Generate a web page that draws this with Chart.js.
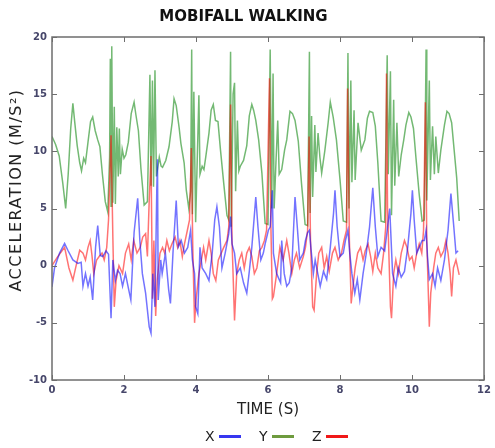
<!DOCTYPE html>
<html>
<head>
<meta charset="utf-8">
<script src="https://cdn.jsdelivr.net/npm/chart.js@4.4.1/dist/chart.umd.min.js"></script>
<style>
  body { margin: 0; background: #fff; }
  #wrap { position: relative; width: 495px; height: 448px; }
  .item { position: absolute; top: 428px; height: 16px; display: flex; align-items: center;
          font: 14px "DejaVu Sans", sans-serif; color: #222; }
  .item i { display: inline-block; width: 22px; height: 3px; margin-left: 4px; }
</style>
</head>
<body>
<div id="wrap">
  <canvas id="chart" width="495" height="448"></canvas>
  <div class="item" style="left:205px">X<i style="background:#3737f0"></i></div>
  <div class="item" style="left:259px">Y<i style="background:#6e9b3e"></i></div>
  <div class="item" style="left:312px">Z<i style="background:#f01818"></i></div>
</div>
<script>
// [time (s), acceleration (m/s²)]
const accX = [
  [0,-1.85],[0.07,-0.2],[0.21,1.1],[0.35,1.95],[0.44,1.35],[0.58,0.5],[0.72,0.2],[0.81,0.3],[0.86,-1.8],[0.93,-0.7],
  [1.0,-1.8],[1.06,-1.0],[1.13,-3.0],[1.21,1.6],[1.27,3.5],[1.34,0.9],[1.41,0.8],[1.5,1.3],[1.57,1.0],[1.64,-4.6],
  [1.69,0.5],[1.76,-1.3],[1.82,-0.4],[1.89,-0.7],[1.96,-1.8],[2.04,-0.7],[2.13,-2.1],[2.19,-3.0],[2.28,2.9],[2.38,5.9],
  [2.44,2.2],[2.51,-0.7],[2.6,-2.4],[2.7,-5.35],[2.75,-5.9],[2.8,-0.7],[2.86,-3.6],[2.91,6.6],[2.93,9.3],[2.95,-3.0],[3.02,0.5],
  [3.06,-0.7],[3.15,1.1],[3.24,-2.1],[3.29,-3.3],[3.36,1.1],[3.45,5.7],[3.51,1.65],[3.59,2.2],[3.68,1.1],[3.77,1.6],
  [3.85,3.1],[3.9,0.5],[3.96,-0.7],[3.99,-3.6],[4.05,-4.2],[4.11,1.6],[4.17,-0.2],[4.27,-0.7],[4.36,-1.3],[4.45,1.1],
  [4.52,4.0],[4.58,5.15],[4.65,3.4],[4.72,-0.2],[4.81,1.1],[4.91,2.8],[4.96,4.3],[5.0,1.9],[5.07,1.1],[5.13,-0.7],
  [5.23,-0.2],[5.32,-1.5],[5.41,-2.4],[5.48,-0.5],[5.55,1.6],[5.66,6.0],[5.72,3.4],[5.8,0.5],[5.87,1.1],[5.92,1.9],
  [6.01,3.1],[6.06,3.4],[6.12,6.6],[6.15,1.1],[6.24,-0.7],[6.35,-1.5],[6.38,2.2],[6.45,-0.7],[6.52,-1.8],[6.59,-1.5],
  [6.66,-0.2],[6.75,6.0],[6.82,3.1],[6.88,0.5],[6.98,1.1],[7.04,2.2],[7.1,2.9],[7.15,3.1],[7.19,1.6],[7.26,-0.7],
  [7.31,0.5],[7.37,-0.5],[7.45,-1.8],[7.54,-0.5],[7.63,-1.2],[7.73,1.6],[7.82,4.6],[7.86,6.6],[7.92,3.4],[8.0,0.8],
  [8.09,1.1],[8.15,2.2],[8.22,3.1],[8.27,1.1],[8.33,-0.7],[8.41,-2.4],[8.48,-1.2],[8.55,-3.0],[8.64,-0.7],[8.73,1.1],
  [8.82,3.4],[8.91,6.8],[8.98,3.4],[9.05,0.8],[9.14,1.6],[9.24,1.3],[9.31,3.1],[9.38,5.0],[9.46,-0.7],[9.55,-1.8],
  [9.62,-0.2],[9.7,-1.0],[9.79,-0.5],[9.88,1.6],[9.97,4.6],[10.01,6.6],[10.06,4.0],[10.13,1.1],[10.2,1.6],[10.28,2.2],
  [10.34,2.2],[10.39,3.1],[10.43,0.8],[10.48,-1.2],[10.57,-0.7],[10.64,-1.8],[10.71,-0.2],[10.8,-1.3],[10.9,0.5],[11.0,3.1],
  [11.08,6.3],[11.16,3.4],[11.22,1.1],[11.28,1.3]
];

const accY = [
  [0,11.3],[0.1,10.6],[0.2,9.6],[0.3,7.2],[0.38,5.0],[0.45,8.0],[0.52,12.0],[0.58,14.2],[0.63,12.6],[0.7,10.5],
  [0.77,9.0],[0.82,8.3],[0.88,9.4],[0.93,9.0],[1.0,10.8],[1.07,12.6],[1.13,13.0],[1.2,11.8],[1.27,11.0],[1.33,10.4],
  [1.4,8.0],[1.48,5.6],[1.55,4.7],[1.6,9.5],[1.62,18.1],[1.64,5.2],[1.66,19.2],[1.69,5.5],[1.73,13.9],[1.76,5.4],
  [1.8,12.1],[1.84,7.8],[1.87,12.0],[1.9,8.0],[1.95,10.2],[2.0,9.4],[2.05,9.7],[2.12,10.8],[2.2,13.3],[2.28,14.3],
  [2.33,13.2],[2.4,11.8],[2.47,8.5],[2.56,5.3],[2.65,5.6],[2.72,16.7],[2.75,7.0],[2.79,16.2],[2.82,6.9],[2.86,17.1],
  [2.9,7.8],[2.98,9.5],[3.03,8.7],[3.07,8.6],[3.16,9.2],[3.25,10.4],[3.34,12.6],[3.39,14.6],[3.45,14.0],[3.53,12.1],
  [3.58,10.7],[3.67,9.0],[3.73,6.6],[3.8,5.0],[3.85,6.5],[3.88,18.9],[3.9,4.5],[3.94,15.2],[3.99,3.8],[4.04,10.0],
  [4.08,14.9],[4.11,8.0],[4.17,8.7],[4.22,8.4],[4.27,9.5],[4.36,11.6],[4.42,13.6],[4.48,14.1],[4.54,12.7],[4.61,12.6],
  [4.68,10.1],[4.77,7.2],[4.86,4.4],[4.91,4.0],[4.96,18.7],[4.98,3.4],[5.03,15.0],[5.07,16.0],[5.1,6.5],[5.15,12.7],
  [5.19,8.3],[5.23,8.7],[5.32,9.2],[5.41,10.5],[5.48,13.1],[5.55,14.1],[5.6,13.6],[5.66,12.7],[5.74,11.0],[5.83,8.1],
  [5.92,3.7],[6.0,3.6],[6.06,18.9],[6.1,5.0],[6.14,16.8],[6.17,5.0],[6.22,9.0],[6.27,12.7],[6.31,8.0],[6.38,8.4],
  [6.46,10.1],[6.52,11.0],[6.61,13.5],[6.68,13.3],[6.75,12.7],[6.84,10.9],[6.93,7.2],[7.03,3.6],[7.1,3.5],[7.15,18.7],
  [7.17,4.6],[7.21,13.1],[7.24,6.0],[7.3,12.3],[7.33,8.2],[7.39,11.6],[7.44,9.5],[7.49,8.1],[7.58,10.1],[7.67,12.5],
  [7.73,14.3],[7.81,13.0],[7.9,11.0],[8.0,7.5],[8.09,3.9],[8.18,3.8],[8.22,18.6],[8.25,5.0],[8.3,16.2],[8.33,7.3],
  [8.39,13.6],[8.42,7.5],[8.5,12.5],[8.59,10.1],[8.69,11.0],[8.76,12.9],[8.82,13.5],[8.91,13.4],[8.98,12.2],[9.05,9.0],
  [9.14,3.9],[9.24,3.8],[9.31,18.4],[9.34,8.0],[9.4,17.0],[9.43,4.4],[9.49,14.5],[9.52,7.0],[9.58,12.5],[9.63,7.8],
  [9.7,9.7],[9.77,11.0],[9.83,12.3],[9.91,13.4],[9.97,13.0],[10.04,12.0],[10.11,9.4],[10.2,6.2],[10.28,3.9],[10.34,4.0],
  [10.39,18.9],[10.41,5.7],[10.48,16.2],[10.51,7.5],[10.57,12.2],[10.62,8.0],[10.66,11.3],[10.73,8.1],[10.8,10.1],[10.9,12.3],
  [10.97,13.5],[11.03,13.3],[11.1,12.5],[11.17,10.1],[11.24,7.7],[11.31,3.9]
];

const accZ = [
  [0,0],[0.14,0.7],[0.35,1.6],[0.47,-0.2],[0.58,-1.26],[0.67,0],[0.77,1.35],[0.86,1.1],[0.93,0.5],[1.0,1.6],
  [1.06,2.2],[1.11,0.9],[1.16,-0.7],[1.24,0.5],[1.31,0.8],[1.39,1.1],[1.45,0.5],[1.52,1.6],[1.57,4.0],[1.64,11.4],
  [1.69,2.5],[1.73,-3.6],[1.78,-1.3],[1.86,0],[1.96,-0.7],[2.04,1.1],[2.13,1.9],[2.2,0.5],[2.27,2.2],[2.36,1.1],
  [2.45,1.6],[2.52,2.5],[2.6,2.8],[2.65,0.8],[2.7,5.7],[2.75,9.6],[2.79,-2.9],[2.83,2.2],[2.88,-4.4],[2.92,-1.3],
  [3.0,1.1],[3.07,1.6],[3.13,1.1],[3.19,2.2],[3.26,1.3],[3.33,1.9],[3.42,2.5],[3.49,1.6],[3.55,2.2],[3.62,0.8],
  [3.68,1.9],[3.76,3.1],[3.82,4.0],[3.87,10.3],[3.91,1.6],[3.96,-5.0],[4.0,-3.0],[4.08,-0.7],[4.15,0.5],[4.21,1.6],
  [4.27,0.5],[4.36,2.2],[4.42,1.1],[4.48,-0.7],[4.55,-1.3],[4.62,0.5],[4.7,1.1],[4.77,1.6],[4.86,2.2],[4.91,3.4],
  [4.96,14.1],[5.0,2.2],[5.07,-4.8],[5.13,-0.7],[5.2,0.5],[5.27,1.1],[5.34,-0.2],[5.41,1.1],[5.48,1.6],[5.55,0.8],
  [5.62,-0.7],[5.69,-0.2],[5.76,1.3],[5.83,1.6],[5.9,2.2],[5.96,3.1],[6.04,16.4],[6.08,3.4],[6.12,-2.9],[6.15,-2.7],
  [6.24,-0.7],[6.33,1.6],[6.42,0.5],[6.52,2.2],[6.58,1.1],[6.66,-0.7],[6.73,0.5],[6.79,1.1],[6.88,-0.2],[6.98,0.8],
  [7.04,1.6],[7.1,3.1],[7.14,11.3],[7.18,2.2],[7.24,-3.6],[7.28,-3.9],[7.35,-0.7],[7.41,1.1],[7.49,1.6],[7.56,-0.2],
  [7.63,0.8],[7.7,-0.5],[7.79,1.1],[7.86,1.6],[7.95,0.5],[8.04,1.1],[8.11,2.2],[8.18,3.1],[8.21,15.5],[8.26,2.2],
  [8.31,-3.3],[8.36,-1.8],[8.42,-0.2],[8.49,1.1],[8.57,1.6],[8.64,0.5],[8.7,1.3],[8.78,1.9],[8.85,0.8],[8.91,-0.5],
  [8.98,1.1],[9.05,-0.2],[9.14,-0.7],[9.21,1.1],[9.27,3.4],[9.29,16.8],[9.32,5.0],[9.4,-3.6],[9.43,-4.6],[9.49,-0.7],
  [9.55,0.5],[9.62,-0.7],[9.7,1.1],[9.79,2.2],[9.86,1.6],[9.93,0.5],[10.0,0.8],[10.06,-0.2],[10.13,1.1],[10.2,1.9],
  [10.27,1.1],[10.32,3.1],[10.37,14.3],[10.41,2.2],[10.48,-5.35],[10.52,-2.4],[10.6,-0.2],[10.66,1.1],[10.73,1.6],[10.8,0.8],
  [10.88,1.3],[10.94,2.2],[11.0,1.1],[11.06,-0.7],[11.1,-2.7],[11.15,-0.2],[11.22,0.5],[11.31,-0.8]
];

const TICK_FONT = { family: 'DejaVu Sans', size: 10, weight: 'bold' };
const TICK_COLOR = '#46466a';
const Y_TITLE = 'ACCELERATION (M/S²)';

const toPoints = arr => arr.map(([x, y]) => ({ x, y }));

// box around the plot with short inward ticks on all four sides, plus the y title
const frame = {
    id: 'frame',
    afterDraw(chart) {
        const { ctx, chartArea: a, scales: { x, y } } = chart;
        ctx.save();
        ctx.strokeStyle = '#6e6e6e';
        ctx.lineWidth = 1.5;
        ctx.strokeRect(a.left, a.top, a.right - a.left, a.bottom - a.top);
        ctx.lineWidth = 1;
        ctx.beginPath();
        x.ticks.forEach(t => {
            const p = Math.round(x.getPixelForValue(t.value)) + 0.5;
            ctx.moveTo(p, a.bottom); ctx.lineTo(p, a.bottom - 5);
            ctx.moveTo(p, a.top); ctx.lineTo(p, a.top + 5);
        });
        y.ticks.forEach(t => {
            const p = Math.round(y.getPixelForValue(t.value)) + 0.5;
            ctx.moveTo(a.left, p); ctx.lineTo(a.left + 5, p);
            ctx.moveTo(a.right, p); ctx.lineTo(a.right - 5, p);
        });
        ctx.stroke();

        ctx.translate(17, 190);
        ctx.rotate(-Math.PI / 2);
        ctx.font = '16px "DejaVu Sans"';
        ctx.letterSpacing = '1.5px';
        ctx.fillStyle = '#222';
        ctx.textAlign = 'center';
        ctx.textBaseline = 'middle';
        ctx.fillText(Y_TITLE, 0, 0);
        ctx.restore();
    }
};

new Chart(document.getElementById('chart'), {
    type: 'line',
    data: {
        datasets: [
            { label: 'X', data: toPoints(accX), borderColor: 'rgba(0,0,255,0.55)', order: 1 },
            { label: 'Y', data: toPoints(accY), borderColor: 'rgba(0,128,0,0.55)', order: 3 },
            { label: 'Z', data: toPoints(accZ), borderColor: 'rgba(255,0,0,0.55)', order: 2 }
        ]
    },
    options: {
        responsive: false, animation: false,
        elements: { point: { radius: 0 }, line: { borderWidth: 1.5, tension: 0 } },
        layout: { padding: { right: 8 } },
        plugins: {
            legend: { display: false },
            tooltip: { enabled: false },
            title: {
                display: true, text: 'MOBIFALL WALKING', color: '#111',
                font: { family: 'DejaVu Sans', size: 15, weight: 'bold' },
                padding: { top: 8, bottom: 11 }
            }
        },
        scales: {
            x: {
                type: 'linear', min: 0, max: 12,
                ticks: { stepSize: 2, color: TICK_COLOR, font: TICK_FONT, padding: 4, maxRotation: 0 },
                grid: { display: false, drawTicks: false },
                border: { display: false },
                title: { display: true, text: 'TIME (S)', color: '#222', font: { family: 'DejaVu Sans', size: 15 }, padding: { top: 0, bottom: 29 } },
                afterFit: s => { s.height = 68; }
            },
            y: {
                min: -10, max: 20,
                ticks: { stepSize: 5, color: TICK_COLOR, font: TICK_FONT, padding: 5 },
                grid: { display: false, drawTicks: false },
                border: { display: false },
                afterFit: s => { s.width = 52; }
            }
        }
    },
    plugins: [frame]
});
</script>
</body>
</html>
